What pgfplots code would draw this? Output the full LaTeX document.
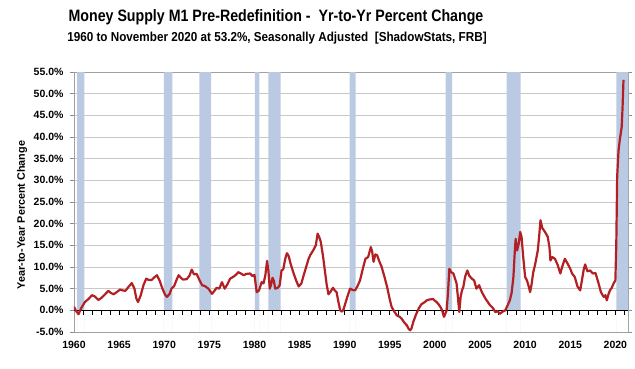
\documentclass[border=0pt]{standalone}
\usepackage{pgfplots}
\pgfplotsset{compat=1.18}
\usepackage{fontspec}
\setmainfont{Liberation Sans}
\newfontfamily\titlefont[FakeStretch=0.86]{Liberation Sans}
\newfontfamily\subfont[FakeStretch=0.9]{Liberation Sans}
\definecolor{lred}{RGB}{178,32,36}
\definecolor{band}{RGB}{186,202,226}
\definecolor{gridc}{RGB}{200,200,200}
\begin{document}
\begin{tikzpicture}
\path[use as bounding box] (-74pt,-37pt) rectangle (561pt,332pt);
\begin{axis}[
  at={(0,0)}, anchor=south west,
  width=554pt, height=260pt, scale only axis,
  xmin=1960, xmax=2021.4, ymin=-5, ymax=55,
  xtick={1960,1965,...,2020},
  ytick={-5,0,...,55},
  xticklabel style={font=\fontsize{10.5}{12}\selectfont\bfseries, yshift=-2pt},
  yticklabel style={font=\fontsize{10.5}{12}\selectfont\bfseries, xshift=-3pt},
  /pgf/number format/assume math mode=true,
  xticklabel={\pgfmathprintnumber[1000 sep={}]{\tick}},
  yticklabel={\pgfmathprintnumber[fixed,fixed zerofill,precision=1]{\tick}\%},
  ymajorgrids, grid style={gridc, line width=0.8pt},
  axis line style={gridc!80!black, line width=0.8pt},
  tick align=outside, major tick length=4pt,
  xtick style={draw=none},
  ytick style={gridc!70!black, line width=0.6pt},
  clip=true,
]
% recession bands
\pgfplotsforeachungrouped \a/\b in {1960.35/1961.15, 1969.95/1970.9, 1973.9/1975.2, 1980.05/1980.55, 1981.55/1982.9, 1990.55/1991.2, 2001.2/2001.9, 2007.95/2009.5, 2020.1/2021.4}{
  \edef\tmp{\noexpand\addplot[fill=band, draw=none, forget plot] coordinates {(\a,-5) (\a,55) (\b,55) (\b,-5)} \noexpand\closedcycle;}
  \tmp
}
% zero line with yearly ticks
\addplot[black, line width=0.9pt, forget plot] coordinates {(1960,0) (2021.4,0)};
\pgfplotsforeachungrouped \yr in {1961,...,2021}{
  \edef\tmp{\noexpand\draw[black, line width=0.9pt] (axis cs:\yr,0) -- ++(0pt,-4.5pt);}
  \tmp
}
\addplot[lred, line width=2.2pt, line join=round] coordinates {
(1960.0,0.8)(1960.25,-0.2)(1960.5,-0.9)(1960.8,0.5)(1961.2,1.9)(1961.6,2.6)(1962.0,3.5)(1962.3,3.2)(1962.7,2.4)(1963.0,2.8)
(1963.4,3.6)(1963.8,4.5)(1964.1,4.0)(1964.4,3.7)(1964.8,4.3)(1965.1,4.8)(1965.4,4.6)(1965.7,4.5)(1966.0,5.3)(1966.4,6.3)
(1966.7,5.0)(1966.9,2.8)(1967.1,1.9)(1967.4,3.5)(1967.7,5.8)(1968.0,7.3)(1968.3,7.0)(1968.6,7.0)(1968.9,7.6)(1969.2,8.1)
(1969.5,6.8)(1969.8,5.0)(1970.1,3.6)(1970.3,3.1)(1970.6,3.8)(1970.8,5.0)(1971.1,5.6)(1971.4,7.2)(1971.6,8.1)(1971.9,7.4)
(1972.1,7.1)(1972.5,7.2)(1972.8,8.0)(1973.05,9.4)(1973.3,8.3)(1973.6,8.4)(1973.9,7.0)(1974.2,5.8)(1974.5,5.6)(1974.9,5.0)
(1975.1,4.4)(1975.3,3.8)(1975.6,4.6)(1975.8,5.2)(1976.1,5.0)(1976.4,6.5)(1976.7,5.0)(1977.0,6.0)(1977.3,7.3)(1977.7,7.8)
(1978.0,8.3)(1978.2,8.8)(1978.5,8.5)(1978.8,8.1)(1979.1,8.4)(1979.5,8.5)(1979.8,7.9)(1980.0,8.2)(1980.25,4.2)(1980.5,4.6)
(1980.8,6.5)(1981.0,6.2)(1981.2,8.0)(1981.4,11.4)(1981.55,9.0)(1981.7,5.0)(1981.85,6.0)(1982.0,7.5)(1982.15,6.8)(1982.3,5.0)
(1982.6,5.2)(1982.8,5.8)(1983.0,9.2)(1983.2,9.5)(1983.4,11.8)(1983.6,13.2)(1983.8,12.5)(1984.0,10.8)(1984.3,8.8)(1984.6,7.0)
(1984.9,5.5)(1985.2,6.2)(1985.4,7.7)(1985.7,9.8)(1986.0,11.9)(1986.2,12.8)(1986.5,13.8)(1986.8,15.0)(1987.0,17.7)(1987.2,16.8)
(1987.35,15.8)(1987.6,12.5)(1987.8,9.2)(1988.0,6.0)(1988.2,3.7)(1988.4,4.2)(1988.7,5.2)(1988.9,4.6)(1989.1,4.2)(1989.3,2.0)
(1989.5,0.0)(1989.7,-0.3)(1989.85,0.1)(1990.1,1.8)(1990.4,3.8)(1990.6,5.0)(1990.9,4.7)(1991.15,4.6)(1991.4,5.5)(1991.7,6.9)
(1992.0,9.5)(1992.3,11.9)(1992.6,12.3)(1992.9,14.6)(1993.05,13.5)(1993.2,11.2)(1993.4,12.9)(1993.6,12.7)(1993.8,11.5)(1994.1,10.0)
(1994.4,7.8)(1994.7,5.4)(1995.0,2.5)(1995.2,0.8)(1995.5,-0.3)(1995.8,-1.2)(1996.1,-1.5)(1996.3,-1.9)(1996.6,-2.8)(1996.9,-3.5)
(1997.1,-4.3)(1997.25,-4.6)(1997.4,-4.2)(1997.6,-2.7)(1997.9,-1.0)(1998.2,0.4)(1998.5,1.4)(1998.8,1.8)(1999.1,2.3)(1999.4,2.5)
(1999.8,2.6)(2000.0,2.2)(2000.2,1.9)(2000.4,1.4)(2000.6,0.8)(2000.8,0.0)(2001.0,-1.5)(2001.15,-0.8)(2001.3,0.0)(2001.45,4.0)
(2001.6,9.6)(2001.8,8.8)(2002.05,8.5)(2002.2,7.5)(2002.4,6.2)(2002.55,3.0)(2002.7,-0.4)(2002.85,3.1)(2003.0,4.6)(2003.15,5.4)
(2003.35,7.8)(2003.6,9.2)(2003.8,8.0)(2004.1,7.3)(2004.35,6.9)(2004.6,5.0)(2004.9,5.8)(2005.2,4.2)(2005.6,2.7)(2005.9,1.8)
(2006.1,1.2)(2006.4,0.6)(2006.7,-0.4)(2006.95,-0.2)(2007.2,-0.8)(2007.5,-0.3)(2007.8,0.0)(2008.0,0.9)(2008.3,2.3)(2008.5,4.0)
(2008.7,7.7)(2008.85,13.5)(2008.95,16.5)(2009.1,13.8)(2009.3,15.5)(2009.45,18.1)(2009.6,17.0)(2009.8,12.0)(2010.0,7.7)(2010.2,6.9)
(2010.4,5.5)(2010.55,4.2)(2010.7,5.8)(2010.9,8.8)(2011.1,10.5)(2011.4,13.8)(2011.55,17.0)(2011.7,20.8)(2011.9,19.0)(2012.2,18.1)
(2012.5,17.0)(2012.7,14.5)(2012.8,11.5)(2013.0,12.3)(2013.3,11.9)(2013.6,10.5)(2013.9,8.5)(2014.1,10.0)(2014.4,11.9)(2014.7,10.8)
(2015.0,9.6)(2015.2,8.5)(2015.5,7.7)(2015.8,5.5)(2016.1,4.6)(2016.3,7.0)(2016.5,9.5)(2016.65,10.6)(2016.9,9.0)(2017.2,9.2)
(2017.5,8.5)(2017.8,8.6)(2018.1,6.5)(2018.4,4.2)(2018.7,3.1)(2018.9,3.5)(2019.05,2.3)(2019.25,3.8)(2019.4,4.6)(2019.6,5.2)
(2019.8,6.2)(2020.0,6.9)(2020.1,15.0)(2020.2,30.8)(2020.35,36.9)(2020.5,39.5)(2020.7,42.3)(2020.8,47.0)(2020.9,53.2)
};
\end{axis}
\node[font=\fontsize{16.5}{18}\titlefont\bfseries] at (202pt,315pt) {Money Supply M1 Pre-Redefinition -\ \ Yr-to-Yr Percent Change};
\node[font=\fontsize{13}{15}\subfont\bfseries] at (203pt,294pt) {1960 to November 2020 at 53.2\%, Seasonally Adjusted\ \ [ShadowStats, FRB]};
\node[font=\fontsize{10.8}{12}\selectfont\bfseries, rotate=90] at (-52pt,117pt) {Year-to-Year Percent Change};
\end{tikzpicture}
\end{document}
